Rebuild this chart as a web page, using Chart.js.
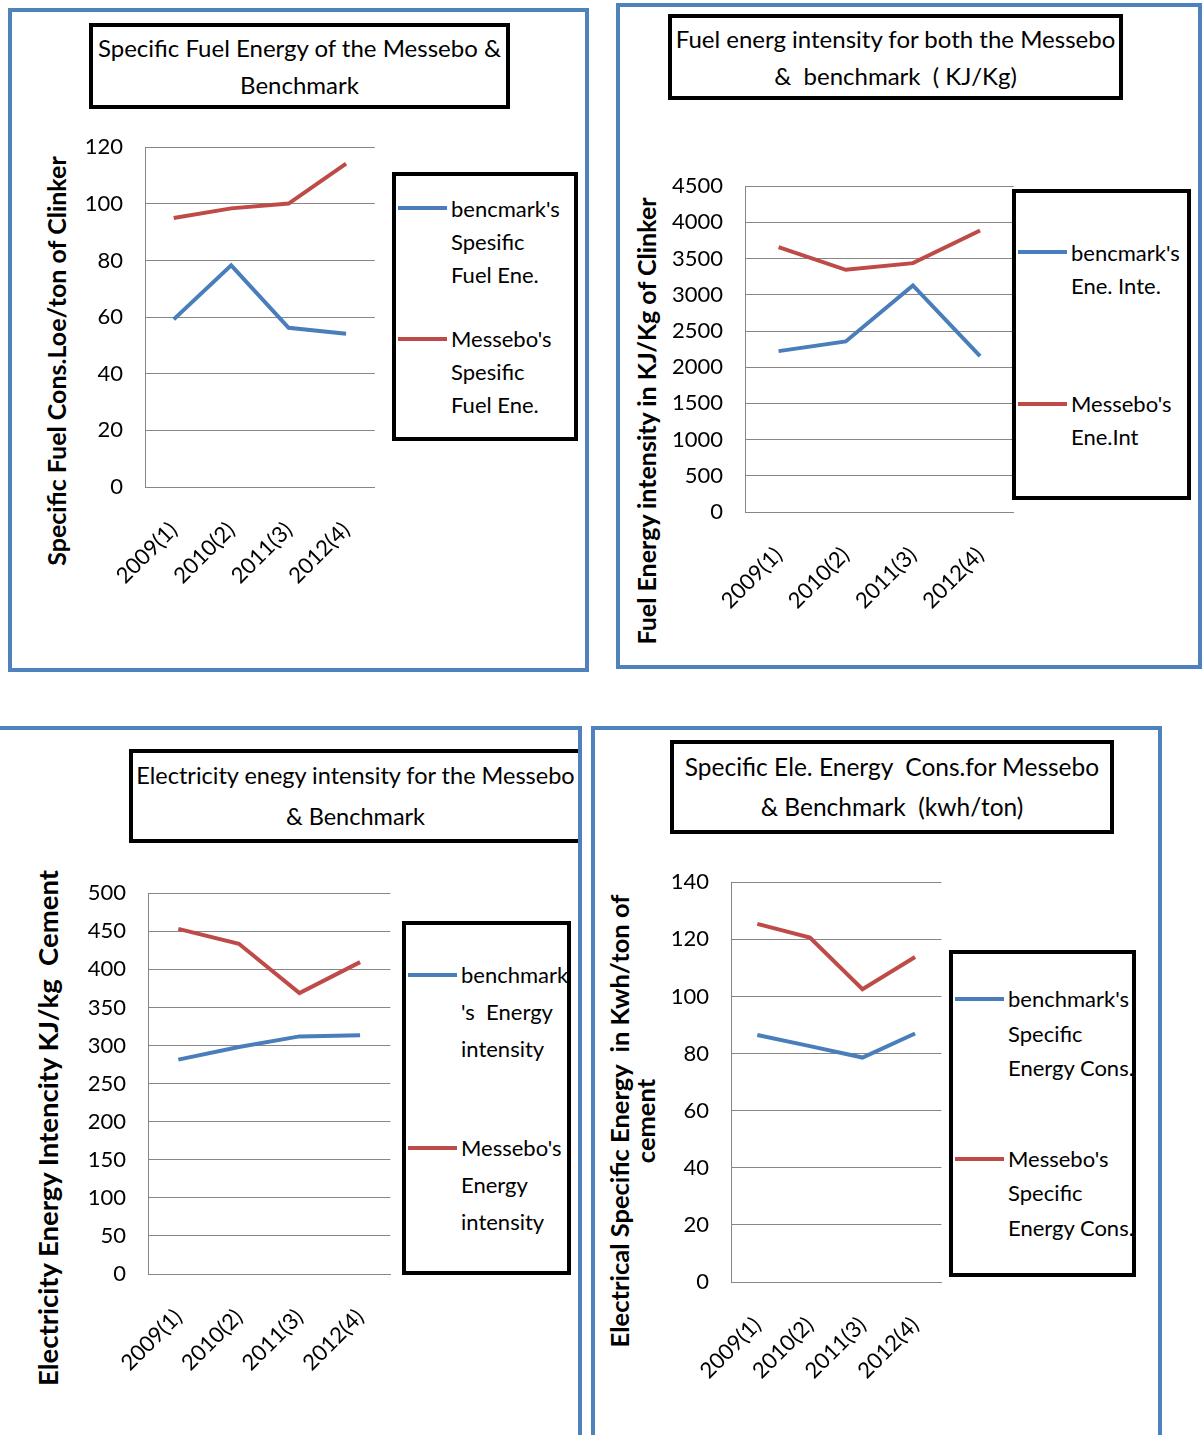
<!DOCTYPE html>
<html>
<head>
<meta charset="utf-8">
<title>Messebo energy charts</title>
<script src="https://cdn.jsdelivr.net/npm/chart.js@4.4.1/dist/chart.umd.min.js"></script>
<style>
  body { margin: 0; width: 1204px; height: 1435px; position: relative; overflow: hidden; background: #fff; font-family: Lato, "Open Sans", sans-serif; color: #000; }
  .panel { position: absolute; border: 4px solid #4f81bd; box-sizing: border-box; }
  .ttl { position: absolute; border: 4px solid #000; box-sizing: border-box; background: #fff;
         display: flex; flex-direction: column; justify-content: center; align-items: center;
         font-size: 24px; white-space: pre; }
  .leg { position: absolute; border: 4px solid #000; box-sizing: border-box; background: #fff;
         display: flex; flex-direction: column; font-size: 22px; }
  .leg .item { flex: 1; display: flex; align-items: center; }
  .leg .txt { position: relative; margin-left: 55px; white-space: pre; }
  .leg .sw { position: absolute; left: -53px; width: 49px; height: 4px; }
  .ytl { position: absolute; font-weight: bold; white-space: pre; text-align: center;
         transform: translate(-50%, -50%) rotate(-90deg); }
  .plot { position: absolute; }
</style>
</head>
<body>
<script>
// categories shared by all four charts
const years = ['2009(1)', '2010(2)', '2011(3)', '2012(4)'];

// specific fuel energy, Loe/ton of clinker
const fuelBench = [59.2, 78.3, 56.2, 54.1];
const fuelMessebo = [95.0, 98.4, 100.1, 114.2];
const fuelTicks = [0, 20, 40, 60, 80, 100, 120];

// fuel energy intensity, KJ/Kg of clinker
const fuelIntBench = [2222, 2356, 3129, 2153];
const fuelIntMessebo = [3658, 3345, 3437, 3888];
const fuelIntTicks = [0, 500, 1000, 1500, 2000, 2500, 3000, 3500, 4000, 4500];

// electricity energy intensity, KJ/kg cement
const elecIntBench = [281.5, 298, 312, 313.4];
const elecIntMessebo = [453.2, 433.6, 368.9, 409.5];
const elecIntTicks = [0, 50, 100, 150, 200, 250, 300, 350, 400, 450, 500];

// specific electrical energy, kwh/ton of cement
const elecBench = [86.5, 82.6, 78.6, 87.0];
const elecMessebo = [125.4, 120.6, 102.5, 113.8];
const elecTicks = [0, 20, 40, 60, 80, 100, 120, 140];

// titles and legend texts, one entry per printed line
const fuelTitle = ['Specific Fuel Energy of the Messebo &', 'Benchmark'];
const fuelIntTitle = ['Fuel energ intensity for both the Messebo', '&  benchmark  ( KJ/Kg)'];
const elecIntTitle = ['Electricity enegy intensity for the Messebo', '& Benchmark'];
const elecTitle = ['Specific Ele. Energy  Cons.for Messebo', '& Benchmark  (kwh/ton)'];

const fuelAxis = ['Specific Fuel Cons.Loe/ton of Clinker'];
const fuelIntAxis = ['Fuel Energy intensity in KJ/Kg of Clinker'];
const elecIntAxis = ['Electricity Energy Intencity KJ/kg  Cement'];
const elecAxis = ['Electrical Specific Energy  in Kwh/ton of', 'cement'];

const fuelLegend = [["bencmark's", 'Spesific', 'Fuel Ene.'], ["Messebo's", 'Spesific', 'Fuel Ene.']];
const fuelIntLegend = [["bencmark's", 'Ene. Inte.'], ["Messebo's", 'Ene.Int']];
const elecIntLegend = [['benchmark', "'s  Energy", 'intensity'], ["Messebo's", 'Energy', 'intensity']];
const elecLegend = [["benchmark's", 'Specific', 'Energy Cons.'], ["Messebo's", 'Specific', 'Energy Cons.']];

const BLUE = '#4a7ebb';
const RED = '#be4b48';
const GRID = '#868686';

// page layout of each panel (pixels)
const panels = [
  { frame: [8, 8, 581, 664],
    title: fuelTitle, titleBox: [89, 23, 421, 86], titleLh: 37, titleSize: 24,
    axis: fuelAxis, axisAt: [56, 361], axisSize: 25, axisLh: 26,
    plot: [145, 147, 374, 487], ticks: fuelTicks,
    series: [fuelBench, fuelMessebo], legend: fuelLegend,
    legendBox: [392, 172, 186, 269], legendLh: 33 },
  { frame: [616, 3, 586, 666],
    title: fuelIntTitle, titleBox: [668, 14, 455, 86], titleLh: 37, titleSize: 24,
    axis: fuelIntAxis, axisAt: [646, 421], axisSize: 25, axisLh: 26,
    plot: [745, 186, 1013, 512], ticks: fuelIntTicks,
    series: [fuelIntBench, fuelIntMessebo], legend: fuelIntLegend,
    legendBox: [1012, 189, 179, 311], legendLh: 33 },
  { frame: [-4, 726, 586, 720],
    title: elecIntTitle, titleBox: [129, 749, 449, 94], titleLh: 41, titleSize: 23.5, openRight: true,
    axis: elecIntAxis, axisAt: [48, 1128], axisSize: 27.5, axisLh: 26,
    plot: [148, 893, 389, 1274], ticks: elecIntTicks,
    series: [elecIntBench, elecIntMessebo], legend: elecIntLegend,
    legendBox: [402, 921, 169, 354], legendLh: 37 },
  { frame: [591, 726, 571, 720],
    title: elecTitle, titleBox: [670, 740, 444, 94], titleLh: 40, titleSize: 24.5,
    axis: elecAxis, axisAt: [632, 1121], axisSize: 25.5, axisLh: 26,
    plot: [731, 882, 940, 1282], ticks: elecTicks,
    series: [elecBench, elecMessebo], legend: elecLegend,
    legendBox: [949, 950, 187, 327], legendLh: 34.5 }
];

function box(cls, [x, y, w, h]) {
  const d = document.createElement('div');
  d.className = cls;
  Object.assign(d.style, { left: x + 'px', top: y + 'px', width: w + 'px', height: h + 'px' });
  document.body.appendChild(d);
  return d;
}

const Y_W = 80, PAD_TOP = 20, PAD_RIGHT = 10, X_H = 110;
const TICK_FONT = { family: 'Lato', size: 22 };

function lineChart(cv, p) {
  const colors = [BLUE, RED];
  return new Chart(cv, {
    type: 'line',
    data: {
      labels: years,
      datasets: p.series.map((vals, i) => ({
        label: p.legend[i].join(' '),
        data: vals,
        borderColor: colors[i],
        backgroundColor: colors[i],
        borderWidth: 4,
        pointRadius: 0,
        tension: 0,
        fill: false
      }))
    },
    options: {
      responsive: false,
      animation: false,
      devicePixelRatio: 1,
      layout: { padding: { top: PAD_TOP, right: PAD_RIGHT, left: 0, bottom: 0 } },
      plugins: { legend: { display: false }, tooltip: { enabled: false } },
      scales: {
        x: {
          offset: true,
          grid: { display: false, drawTicks: false },
          border: { display: true, color: GRID, width: 1 },
          ticks: { minRotation: 45, maxRotation: 45, autoSkip: false, padding: 30,
                   color: '#000', font: TICK_FONT },
          afterFit: s => { s.height = X_H; }
        },
        y: {
          min: p.ticks[0],
          max: p.ticks[p.ticks.length - 1],
          afterBuildTicks: s => { s.ticks = p.ticks.map(v => ({ value: v })); },
          grid: { color: GRID, lineWidth: 1, drawTicks: false },
          border: { display: true, color: GRID, width: 1 },
          ticks: { padding: 22, color: '#000', font: TICK_FONT, callback: v => String(v) },
          afterFit: s => { s.width = Y_W; }
        }
      }
    }
  });
}

panels.forEach(p => {
  box('panel', p.frame);

  const t = box('ttl', p.titleBox);
  if (p.openRight) t.style.borderRight = 'none';
  t.style.lineHeight = p.titleLh + 'px';
  t.style.fontSize = p.titleSize + 'px';
  p.title.forEach(line => {
    const s = document.createElement('div');
    s.textContent = line;
    t.appendChild(s);
  });

  const a = document.createElement('div');
  a.className = 'ytl';
  Object.assign(a.style, { left: p.axisAt[0] + 'px', top: p.axisAt[1] + 'px',
                           fontSize: p.axisSize + 'px', lineHeight: p.axisLh + 'px' });
  a.textContent = p.axis.join('\n');
  document.body.appendChild(a);

  // canvas sized so the chart area lands on the plot rectangle
  const [l, tp, r, b] = p.plot;
  let x0 = l - Y_W, y0 = tp - PAD_TOP;
  let w = r - l + Y_W + PAD_RIGHT, h = b - tp + PAD_TOP + X_H;
  const wrap = box('plot', [x0, y0, w, h]);
  let cv = document.createElement('canvas');
  cv.width = w; cv.height = h;
  wrap.appendChild(cv);
  let chart = lineChart(cv, p);

  // the library reserves some room for label overflow; grow the canvas by that much
  const ca = chart.chartArea;
  const dl = ca.left - (l - x0), dt = ca.top - (tp - y0);
  const dr = (r - x0) - ca.right, db = (b - y0) - ca.bottom;
  if (dl || dt || dr || db) {
    chart.destroy();
    x0 -= dl; y0 -= dt; w += dl + dr; h += dt + db;
    Object.assign(wrap.style, { left: x0 + 'px', top: y0 + 'px', width: w + 'px', height: h + 'px' });
    wrap.innerHTML = '';
    cv = document.createElement('canvas');
    cv.width = w; cv.height = h;
    wrap.appendChild(cv);
    chart = lineChart(cv, p);
  }

  // legend box built from the chart's own datasets
  const lg = box('leg', p.legendBox);
  chart.data.datasets.forEach((ds, i) => {
    const item = document.createElement('div');
    item.className = 'item';
    const txt = document.createElement('div');
    txt.className = 'txt';
    txt.style.lineHeight = p.legendLh + 'px';
    txt.textContent = p.legend[i].join('\n');
    const sw = document.createElement('span');
    sw.className = 'sw';
    sw.style.background = ds.borderColor;
    sw.style.top = (p.legendLh / 2 - 2) + 'px';
    txt.appendChild(sw);
    item.appendChild(txt);
    lg.appendChild(item);
  });
});
</script>
</body>
</html>
